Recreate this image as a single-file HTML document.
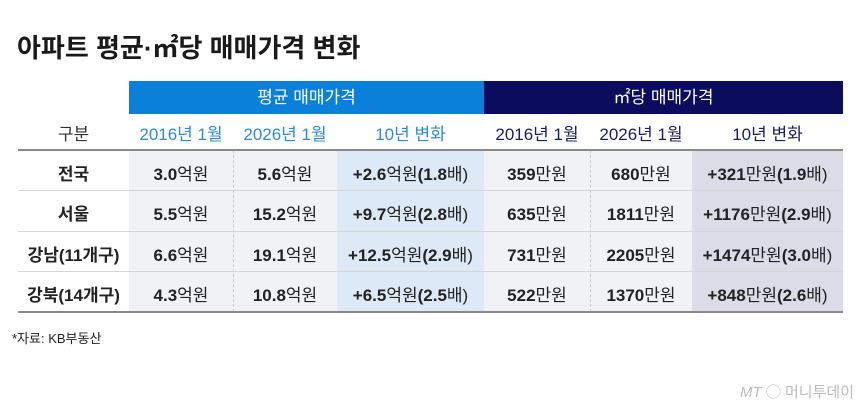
<!DOCTYPE html>
<html><head><meta charset="utf-8"><style>
body{margin:0;width:860px;height:409px;background:#fff;font-family:"Liberation Sans","Noto Sans CJK KR",sans-serif;position:relative;overflow:hidden;color:#222}
.t{position:absolute;left:17px;top:28px;font-size:26px;font-weight:bold;color:#1a1a1a;white-space:nowrap}
.bar{position:absolute;top:81px;height:33px;color:#fff;font-size:17px;text-align:center;line-height:33px}
.c{position:absolute;text-align:center;font-size:17px;white-space:nowrap}
.bg{position:absolute}
b{font-weight:bold}
.hl{position:absolute;left:18px;width:825px;height:1px;background:#d6d6d6}
.dv{position:absolute;width:0;border-left:1px dashed #c8c8c8;top:150px;height:162px}
</style></head><body>
<div class="t">아파트 평균·㎡당 매매가격 변화</div>
<div class="bar" style="left:129px;width:355px;background:#0a80d9">평균 매매가격</div>
<div class="bar" style="left:484px;width:359px;background:#0b0c5e">㎡당 매매가격</div>
<div class="bg" style="left:129px;top:150px;width:208px;height:162px;background:#f1f2f5"></div>
<div class="bg" style="left:337px;top:150px;width:147px;height:162px;background:#dde9f6"></div>
<div class="bg" style="left:484px;top:150px;width:208px;height:162px;background:#f1f2f5"></div>
<div class="bg" style="left:692px;top:150px;width:151px;height:162px;background:#dcdce8"></div>
<div class="dv" style="left:233px"></div>
<div class="dv" style="left:590px"></div>
<div class="hl" style="top:190px"></div><div class="hl" style="top:231px"></div><div class="hl" style="top:271px"></div>
<div class="hl" style="top:149px;height:2px;background:#8a8a8a"></div>
<div class="hl" style="top:311px;height:2px;background:#8a8a8a"></div>
<div id="g"></div>
<script>
var cols=[[18,111],[129,104],[233,104],[337,147],[484,106],[590,102],[692,151]];
var head=["구분","2016년 1월","2026년 1월","10년 변화","2016년 1월","2026년 1월","10년 변화"];
var hc=["#333","#2a8bd8","#2a8bd8","#2a8bd8","#1b1f5e","#1b1f5e","#1b1f5e"];
var rows=[["전국","<b>3.0</b>억원","<b>5.6</b>억원","<b>+2.6</b>억원<b>(1.8</b>배)","<b>359</b>만원","<b>680</b>만원","<b>+321</b>만원<b>(1.9</b>배)"],
["서울","<b>5.5</b>억원","<b>15.2</b>억원","<b>+9.7</b>억원<b>(2.8</b>배)","<b>635</b>만원","<b>1811</b>만원","<b>+1176</b>만원<b>(2.9</b>배)"],
["강남(11개구)","<b>6.6</b>억원","<b>19.1</b>억원","<b>+12.5</b>억원<b>(2.9</b>배)","<b>731</b>만원","<b>2205</b>만원","<b>+1474</b>만원<b>(3.0</b>배)"],
["강북(14개구)","<b>4.3</b>억원","<b>10.8</b>억원","<b>+6.5</b>억원<b>(2.5</b>배)","<b>522</b>만원","<b>1370</b>만원","<b>+848</b>만원<b>(2.6</b>배)"]];
var ty=[150,190,231,271],h="";
for(var i=0;i<7;i++)h+='<div class="c" style="left:'+cols[i][0]+'px;width:'+cols[i][1]+'px;top:120px;color:'+hc[i]+'">'+head[i]+'</div>';
for(var r=0;r<4;r++)for(var i=0;i<7;i++)h+='<div class="c" style="left:'+cols[i][0]+'px;width:'+cols[i][1]+'px;top:'+(ty[r]+10)+'px;'+(i==0?'font-weight:bold;':'')+'">'+rows[r][i]+'</div>';
document.getElementById('g').innerHTML=h;
</script>
<div style="position:absolute;left:12px;top:328px;font-size:13px;color:#222">*자료: KB부동산</div>
<div style="position:absolute;left:740px;top:381px;font-size:15px;color:#bbb;white-space:nowrap"><i>MT</i> ◯ 머니투데이</div>
</body></html>
